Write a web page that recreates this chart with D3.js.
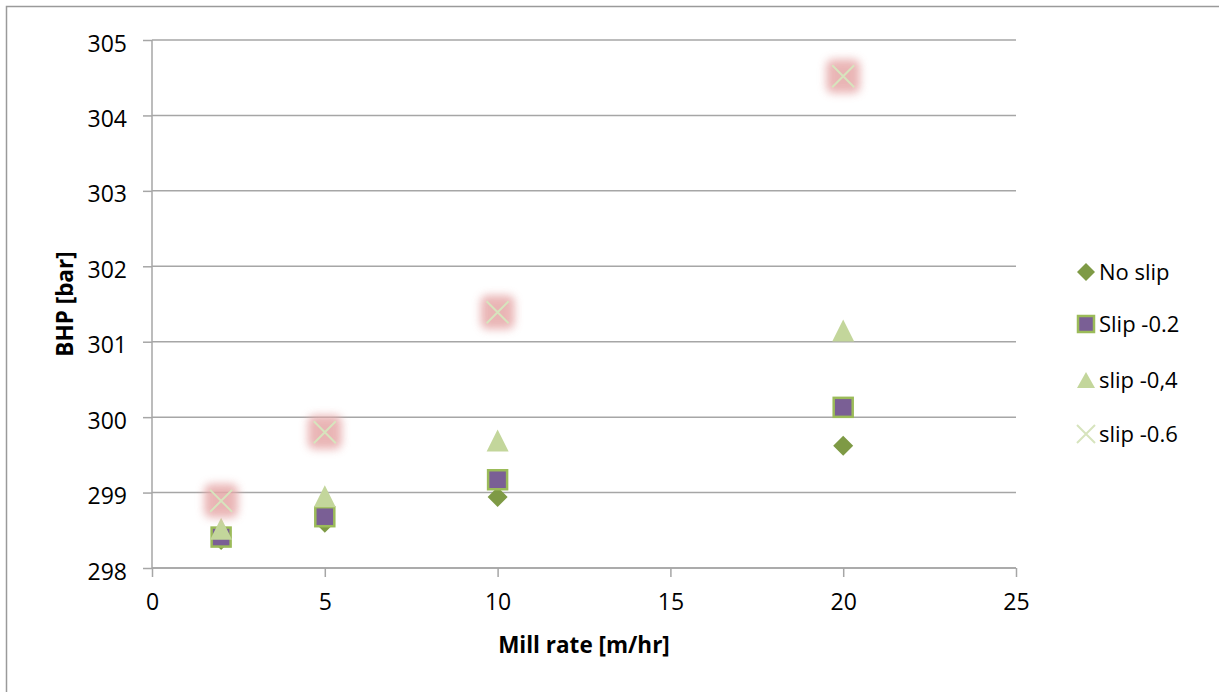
<!DOCTYPE html>
<html>
<head>
<meta charset="utf-8">
<script src="https://cdn.jsdelivr.net/npm/d3@7"></script>
<style>
html,body{margin:0;padding:0;background:#fff;}
svg{display:block;font-family:"Open Sans","Liberation Sans",Arial,sans-serif;}
</style>
</head>
<body>
<svg id="chart" width="1219" height="692"></svg>
<script>
const millRate = [2, 5, 10, 20];
const noSlip = [298.37, 298.6, 298.94, 299.62];
const slip02 = [298.41, 298.68, 299.17, 300.13];
const slip04 = [298.52, 298.95, 299.69, 301.15];
const slip06 = [298.89, 299.8, 301.39, 304.52];
const xTicks = [0, 5, 10, 15, 20, 25];
const yTicks = [298, 299, 300, 301, 302, 303, 304, 305];
const seriesNames = ["No slip", "Slip -0.2", "slip -0,4", "slip -0.6"];

const FONT = '"Open Sans","Liberation Sans",Arial,sans-serif';
const svg = d3.select("#chart");
const x = d3.scaleLinear().domain([0, 25]).range([152, 1016]);
const y = d3.scaleLinear().domain([298, 305]).range([568, 40]);

const defs = svg.append("defs");
const f = defs.append("filter").attr("id","glow").attr("x","-50%").attr("y","-50%").attr("width","200%").attr("height","200%");
f.append("feGaussianBlur").attr("stdDeviation", 4);

svg.append("rect").attr("x",6.5).attr("y",6.5).attr("width",1240).attr("height",700)
  .attr("fill","none").attr("stroke","#9a9a9a").attr("stroke-width",1.5);

svg.append("g").selectAll("line").data(yTicks).join("line")
  .attr("x1", x(0)).attr("x2", x(25))
  .attr("y1", d => y(d)).attr("y2", d => y(d))
  .attr("stroke", "#a6a6a6").attr("stroke-width", 1.5);

const yAxis = svg.append("g").attr("transform", `translate(${x(0)},0)`)
  .call(d3.axisLeft(y).tickValues(yTicks).tickFormat(d3.format("d")).tickSize(9).tickPadding(16));
const xAxis = svg.append("g").attr("transform", `translate(0,${y(298)})`)
  .call(d3.axisBottom(x).tickValues(xTicks).tickFormat(d3.format("d")).tickSize(9).tickPadding(17));
[yAxis, xAxis].forEach(a => {
  a.select(".domain").attr("stroke", "#a6a6a6").attr("stroke-width", 1.5);
  a.selectAll(".tick line").attr("stroke", "#a6a6a6").attr("stroke-width", 1.5);
  a.selectAll(".tick text").attr("fill", "#000").style("font-size", "23px").style("font-family", FONT);
});
yAxis.selectAll(".tick text").attr("dy", "0.48em");
xAxis.select(".domain").attr("d", `M${x(0)},0H${x(25)}`);
yAxis.select(".domain").attr("d", `M0,${y(305)}V${y(298)}`);

svg.append("text").attr("x", 584).attr("y", 653).attr("text-anchor","middle")
  .style("font-size","22.5px").style("font-weight","bold").style("font-family", FONT).text("Mill rate [m/hr]");
svg.append("text").attr("transform","translate(73,304) rotate(-90)").attr("text-anchor","middle")
  .style("font-size","22.5px").style("font-weight","bold").style("font-family", FONT).text("BHP [bar]");

function diamond(g, cx, cy, s){
  g.append("path").attr("d", `M${cx},${cy-s}L${cx+s},${cy}L${cx},${cy+s}L${cx-s},${cy}Z`)
   .attr("fill","#7e9a45");
}
function square(g, cx, cy, s){
  g.append("rect").attr("x", cx-s).attr("y", cy-s).attr("width", 2*s).attr("height", 2*s)
   .attr("fill","#7a5f95").attr("stroke","#9bbb59").attr("stroke-width",2.5);
}
function triangle(g, cx, cy, w, h){
  g.append("path").attr("d", `M${cx},${cy-h}L${cx+w},${cy+h}L${cx-w},${cy+h}Z`)
   .attr("fill","#c3d69b");
}
function cross(g, cx, cy, s){
  g.append("path").attr("d", `M${cx-s},${cy-s}L${cx+s},${cy+s}M${cx+s},${cy-s}L${cx-s},${cy+s}`)
   .attr("stroke","#d7e4bd").attr("stroke-width",2).attr("fill","none");
}

const gMarks = svg.append("g");
const gN = gMarks.append("g");
millRate.forEach((m,i) => diamond(gN, x(m), y(noSlip[i]), 10));
const gS2 = gMarks.append("g");
millRate.forEach((m,i) => square(gS2, x(m), y(slip02[i]), 9.5));
const gS4 = gMarks.append("g");
millRate.forEach((m,i) => triangle(gS4, x(m), y(slip04[i]), 11, 11));
const gS6 = gMarks.append("g");
millRate.forEach((m,i) => {
  gS6.append("rect").attr("x", x(m)-17).attr("y", y(slip06[i])-17).attr("width",34).attr("height",34)
    .attr("rx",7).attr("fill","#e6a9a9").attr("opacity",0.85).attr("filter","url(#glow)");
  cross(gS6, x(m), y(slip06[i]), 11);
});

const legY = [272, 324, 380, 434];
const leg = svg.append("g");
const legFns = [
  (g,cx,cy)=>diamond(g,cx,cy,9),
  (g,cx,cy)=>square(g,cx,cy,8),
  (g,cx,cy)=>triangle(g,cx,cy,9,8),
  (g,cx,cy)=>cross(g,cx,cy,9)
];
seriesNames.forEach((n,i) => {
  legFns[i](leg, 1086, legY[i]);
  leg.append("text").attr("x", 1099).attr("y", legY[i]).attr("dy","0.36em")
    .style("font-size","22px").style("font-family", FONT).text(n);
});
</script>
</body>
</html>
